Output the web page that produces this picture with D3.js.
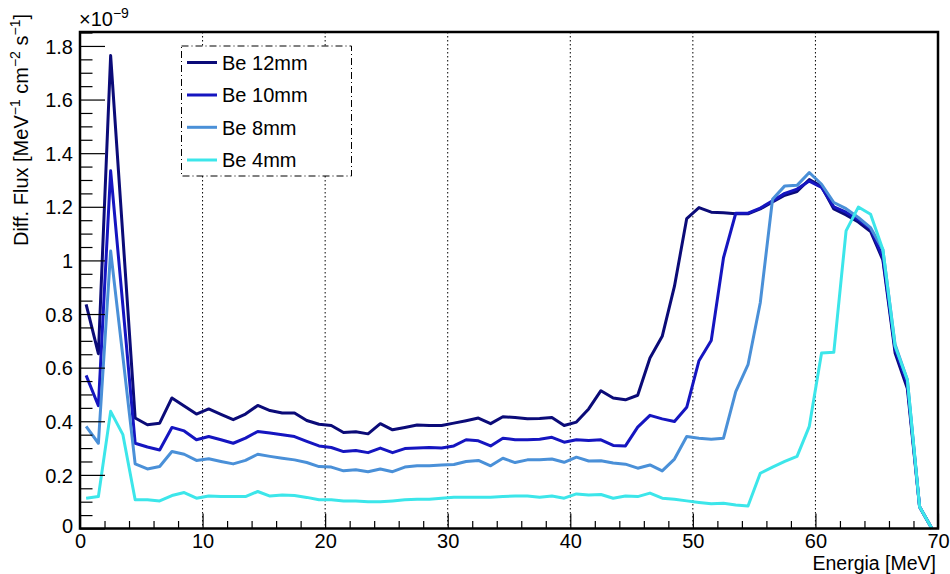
<!DOCTYPE html>
<html>
<head>
<meta charset="utf-8">
<script src="https://cdn.jsdelivr.net/npm/d3@7"></script>
<style>
  body { margin: 0; background: #fff; }
  text { font-family: "Liberation Sans", Arial, Helvetica, sans-serif; fill: #000; }
</style>
</head>
<body>
<svg id="chart" width="950" height="574"></svg>
<script>
// Bin centres of the energy spectrum [MeV]
const energy = d3.range(70).map(i => i + 0.5);

// Differential flux per bin, in units of 1e-9 MeV^-1 cm^-2 s^-1
const be12 = [0.836,0.652,1.764,1.090,0.412,0.387,0.393,0.487,0.457,0.427,
              0.446,0.426,0.406,0.427,0.459,0.440,0.431,0.431,0.403,0.389,
              0.384,0.358,0.361,0.353,0.391,0.368,0.377,0.386,0.384,0.384,
              0.393,0.402,0.412,0.391,0.417,0.414,0.409,0.410,0.414,0.384,
              0.397,0.446,0.514,0.487,0.480,0.497,0.636,0.717,0.904,1.156,
              1.197,1.180,1.178,1.174,1.174,1.192,1.218,1.243,1.257,1.302,
              1.276,1.192,1.170,1.143,1.108,1.002,0.655,0.522,0.080,0.000];
const be10 = [0.571,0.458,1.334,0.830,0.318,0.304,0.293,0.377,0.364,0.331,
              0.343,0.331,0.318,0.337,0.362,0.356,0.350,0.343,0.325,0.308,
              0.302,0.287,0.291,0.283,0.300,0.283,0.298,0.300,0.302,0.300,
              0.308,0.331,0.327,0.308,0.337,0.331,0.331,0.333,0.340,0.322,
              0.331,0.328,0.331,0.310,0.308,0.378,0.422,0.409,0.399,0.452,
              0.626,0.701,1.010,1.176,1.176,1.195,1.222,1.250,1.266,1.296,
              1.272,1.200,1.180,1.152,1.118,1.012,0.668,0.538,0.081,0.000];
const be8  = [0.381,0.318,1.035,0.640,0.241,0.222,0.231,0.287,0.277,0.254,
              0.260,0.250,0.241,0.254,0.277,0.269,0.262,0.256,0.246,0.231,
              0.229,0.215,0.219,0.212,0.222,0.212,0.229,0.234,0.234,0.237,
              0.239,0.250,0.254,0.234,0.262,0.246,0.256,0.256,0.259,0.247,
              0.266,0.252,0.253,0.244,0.240,0.225,0.237,0.215,0.259,0.343,
              0.337,0.333,0.337,0.511,0.611,0.842,1.228,1.278,1.280,1.328,
              1.284,1.216,1.193,1.160,1.122,1.041,0.686,0.555,0.081,0.000];
const be4  = [0.113,0.119,0.437,0.350,0.107,0.107,0.103,0.123,0.134,0.113,
              0.121,0.119,0.119,0.119,0.138,0.121,0.125,0.123,0.116,0.107,
              0.107,0.103,0.103,0.100,0.100,0.103,0.107,0.109,0.109,0.113,
              0.117,0.117,0.117,0.117,0.119,0.121,0.121,0.117,0.121,0.113,
              0.129,0.125,0.127,0.113,0.121,0.119,0.132,0.113,0.109,0.103,
              0.097,0.092,0.094,0.088,0.084,0.206,0.229,0.250,0.269,0.381,
              0.655,0.657,1.110,1.199,1.172,1.041,0.680,0.555,0.081,0.000];

const seriesNames  = ["Be 12mm", "Be 10mm", "Be 8mm", "Be 4mm"];
const seriesValues = [be12, be10, be8, be4];
const seriesColors = ["#0b0b78", "#1515c0", "#4a90d8", "#3ce6ea"];

const xTickValues = [0, 10, 20, 30, 40, 50, 60, 70];
const xTickLabels = ["0", "10", "20", "30", "40", "50", "60", "70"];
const yTickValues = [0, 0.2, 0.4, 0.6, 0.8, 1.0, 1.2, 1.4, 1.6, 1.8];
const yTickLabels = ["0", "0.2", "0.4", "0.6", "0.8", "1", "1.2", "1.4", "1.6", "1.8"];
const gridValues  = [10, 20, 30, 40, 50, 60];

// ---- layout ----
const frame = { left: 80, right: 938, top: 32, bottom: 528.5 };

const svg = d3.select("#chart");
const x = d3.scaleLinear().domain([0, 70]).range([frame.left, frame.right]);
const y = d3.scaleLinear().domain([0, 1.852]).range([frame.bottom, frame.top]);

// vertical dotted grid
svg.append("g").selectAll("line").data(gridValues).join("line")
  .attr("x1", d => x(d)).attr("x2", d => x(d))
  .attr("y1", frame.top).attr("y2", frame.bottom)
  .attr("stroke", "#000").attr("stroke-width", 1)
  .attr("stroke-dasharray", "1.5,2.5");

// spectra
const line = d3.line().x((d, i) => x(energy[i])).y(d => y(d));
const plot = svg.append("g");
seriesValues.forEach((vals, k) => {
  plot.append("path").datum(vals)
    .attr("d", line)
    .attr("fill", "none")
    .attr("stroke", seriesColors[k])
    .attr("stroke-width", 3)
    .attr("stroke-linejoin", "round");
});

// axes: ticks point inwards
const xMinor = d3.range(0, 70.01, 2).filter(v => v % 10 !== 0);
const yMinor = d3.range(0, 1.851, 0.05).filter(v => Math.abs(v / 0.2 - Math.round(v / 0.2)) > 1e-6);

const xAxis = svg.append("g").attr("transform", `translate(0,${frame.bottom})`)
  .call(d3.axisBottom(x).tickValues(xTickValues)
    .tickFormat((d, i) => xTickLabels[i]).tickSize(-15).tickPadding(5));
svg.append("g").attr("transform", `translate(0,${frame.bottom})`)
  .call(d3.axisBottom(x).tickValues(xMinor).tickFormat("").tickSize(-7.5));

const yAxis = svg.append("g").attr("transform", `translate(${frame.left},0)`)
  .call(d3.axisLeft(y).tickValues(yTickValues)
    .tickFormat((d, i) => yTickLabels[i]).tickSize(-25).tickPadding(7));
svg.append("g").attr("transform", `translate(${frame.left},0)`)
  .call(d3.axisLeft(y).tickValues(yMinor).tickFormat("").tickSize(-12.5));

svg.selectAll(".domain").remove();
svg.selectAll(".tick line").attr("stroke", "#000").attr("stroke-width", 1.2);
xAxis.selectAll(".tick text").attr("font-size", 20).attr("dy", "0.71em")
  .attr("font-family", "Liberation Sans");
yAxis.selectAll(".tick text").attr("font-size", 20).attr("dy", "0.36em")
  .attr("font-family", "Liberation Sans");
// the y "0" sits a little lower than its tick
yAxis.selectAll(".tick text").filter(d => d === 0).attr("dy", "0.2em");

// frame
svg.append("rect")
  .attr("x", frame.left).attr("y", frame.top)
  .attr("width", frame.right - frame.left).attr("height", frame.bottom - frame.top)
  .attr("fill", "none").attr("stroke", "#000").attr("stroke-width", 2.5);

// exponent label
const expo = svg.append("text").attr("x", 79).attr("y", 26).attr("font-size", 20);
expo.append("tspan").text("\u00d710");
expo.append("tspan").attr("font-size", 14).attr("dy", -8).text("\u22129");

// axis titles
svg.append("text")
  .attr("x", 936).attr("y", 569.5).attr("text-anchor", "end")
  .attr("font-size", 19.5).text("Energia [MeV]");

const yt = svg.append("text")
  .attr("transform", "translate(28,14) rotate(-90)")
  .attr("text-anchor", "end").attr("font-size", 20);
const ytParts = [["Diff. Flux [MeV", false], ["\u22121", true], [" cm", false],
                 ["\u22122", true], [" s", false], ["\u22121", true], ["]", false]];
ytParts.forEach(([t, sup], i) => {
  const s = yt.append("tspan").text(t);
  if (sup) s.attr("font-size", 14).attr("dy", -8);
  else if (i > 0) s.attr("dy", 8);
});

// legend
const lg = { x0: 181.5, y0: 46, x1: 351.5, y1: 176 };
svg.append("rect")
  .attr("x", lg.x0).attr("y", lg.y0)
  .attr("width", lg.x1 - lg.x0).attr("height", lg.y1 - lg.y0)
  .attr("fill", "#fff").attr("stroke", "#000").attr("stroke-width", 1)
  .attr("stroke-dasharray", "7,3,1,3");
const rowY = [62.5, 95, 127.3, 160];
seriesNames.forEach((name, k) => {
  svg.append("line")
    .attr("x1", 187).attr("x2", 217).attr("y1", rowY[k]).attr("y2", rowY[k])
    .attr("stroke", seriesColors[k]).attr("stroke-width", 3);
  svg.append("text")
    .attr("x", 222).attr("y", rowY[k]).attr("dy", "0.36em")
    .attr("font-size", 20).text(name);
});
</script>
</body>
</html>
